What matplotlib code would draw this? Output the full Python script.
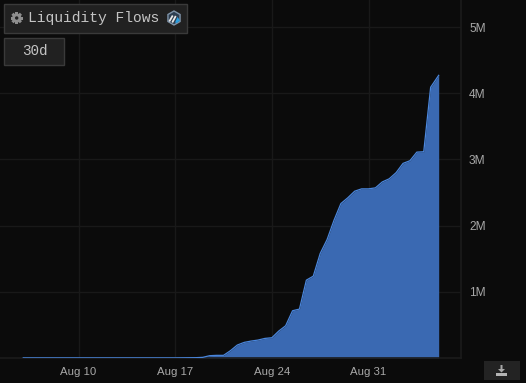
import matplotlib
matplotlib.use("Agg")
import matplotlib.pyplot as plt
import matplotlib.dates as mdates
import pandas as pd
from matplotlib.patches import Rectangle, RegularPolygon, Polygon, Circle

W, H = 526, 383
BG = "#0b0b0b"
GRID = "#191919"
TXT = "#a8a8a8"

start_date = "2023-08-06"
flows_m = [0.002, 0.002, 0.002, 0.002, 0.002, 0.002, 0.002, 0.002,
           0.002, 0.002, 0.002, 0.002, 0.002, 0.002, 0.002, 0.002,
           0.002, 0.002, 0.002, 0.002, 0.002, 0.002, 0.002, 0.003,
           0.004, 0.005, 0.01, 0.035, 0.04, 0.04,
           0.11, 0.196, 0.236, 0.256, 0.271, 0.296,
           0.306, 0.407, 0.487, 0.714, 0.739, 1.176, 1.236, 1.578, 1.789, 2.08,
           2.333, 2.42, 2.52, 2.555, 2.555, 2.57, 2.66, 2.707, 2.8, 2.94,
           2.98, 3.11, 3.116, 4.09, 4.27]
latest_extra_hours = 2
tick_dates = ["2023-08-10", "2023-08-17", "2023-08-24", "2023-08-31"]
tick_labels = ["Aug 10", "Aug 17", "Aug 24", "Aug 31"]
y_ticks = [1, 2, 3, 4, 5]
y_labels = ["1M", "2M", "3M", "4M", "5M"]
title = "Liquidity Flows"
range_label = "30d"

dates = pd.date_range(start_date, periods=len(flows_m), freq="12h").to_list()
dates[-1] = dates[-1] + pd.Timedelta(hours=latest_extra_hours)

plt.rcParams["font.family"] = ["Liberation Sans", "DejaVu Sans"]
fig = plt.figure(figsize=(W/100, H/100), dpi=100, facecolor=BG)
ax = fig.add_axes([0, (H-358)/H, 461/W, 358/H], facecolor=BG)

ax.fill_between(dates, flows_m, 0, color="#3a69b2", lw=0, zorder=2)
ax.plot(dates, flows_m, color="#4a86dc", lw=0.9, zorder=3)

px_day = (368-78)/21
x10 = mdates.date2num(pd.Timestamp(tick_dates[0]))
ax.set_xlim(x10-78.5/px_day, x10+(461-78.5)/px_day)
ax.set_ylim(0, 358/66.2)

ax.set_xticks(mdates.date2num(pd.to_datetime(tick_dates)))
ax.set_xticklabels(tick_labels)
ax.set_yticks(y_ticks)
ax.set_yticklabels(y_labels)
ax.yaxis.tick_right()
ax.tick_params(axis="x", colors=TXT, labelsize=8.2, length=0, pad=6.5)
ax.tick_params(axis="y", colors=TXT, labelsize=8.6, length=0, pad=5.8)
ax.grid(True, color=GRID, lw=1, zorder=1)
ax.set_axisbelow(True)
for s in ["top", "left"]:
    ax.spines[s].set_visible(False)
for s in ["right", "bottom"]:
    ax.spines[s].set_color("#1b1b1b")
    ax.spines[s].set_linewidth(1.2)

ov = fig.add_axes([0, 0, 1, 1], facecolor="none")
ov.set_xlim(0, W)
ov.set_ylim(H, 0)
ov.axis("off")

def button(x0, y0, x1, y1):
    ov.add_patch(Rectangle((x0, y0), x1-x0, y1-y0, fc="#212121", ec="#3a3a3a", lw=1))

button(4, 3.5, 187, 32.5)
button(4, 37.5, 64, 64.5)

# gear icon
gear_c = (16.7, 18)
for ang in (0, 45, 90, 135):
    ov.add_patch(Rectangle((gear_c[0]-6, gear_c[1]-1.5), 12, 3, fc="#8e8e8e", ec="none",
                           transform=matplotlib.transforms.Affine2D().rotate_deg_around(gear_c[0], gear_c[1], ang) + ov.transData))
ov.add_patch(Circle(gear_c, 4.6, fc="#8e8e8e", ec="none"))
ov.add_patch(Circle(gear_c, 1.7, fc="#212121", ec="none"))

ov.text(28.5, 18, title, family="Liberation Mono", fontsize=10.5, color="#c4c4c4", ha="left", va="center")
ov.text(35, 51, range_label, family="Liberation Mono", fontsize=10.3, color="#c4c4c4", ha="center", va="center")

# network logo
ov.add_patch(RegularPolygon((174, 18), 6, radius=7, fc="#2d3e50", ec="#7f93a8", lw=1))
ov.add_patch(Polygon([[168.5, 21], [172, 15], [173.5, 16], [170, 22]], fc="#e8e8e8", ec="none"))
ov.add_patch(Polygon([[171.5, 22], [175, 15.5], [176.5, 16.5], [173, 23]], fc="#e8e8e8", ec="none"))
ov.add_patch(Polygon([[175, 22.5], [177.5, 17], [180, 20.5], [177, 23]], fc="#2a9fe0", ec="none"))

# download button
ov.add_patch(Rectangle((484, 361), 36, 19, fc="#232323", ec="none"))
ov.add_patch(Polygon([[500.5, 365], [502.5, 365], [502.5, 369], [505, 369], [501.5, 372.5], [498, 369], [500.5, 369]],
                     fc="#a8a8a8", ec="none"))
ov.add_patch(Rectangle((496, 373), 11, 3.4, fc="#b4b4b4", ec="none"))

fig.savefig("out.png", dpi=100, facecolor=BG)
